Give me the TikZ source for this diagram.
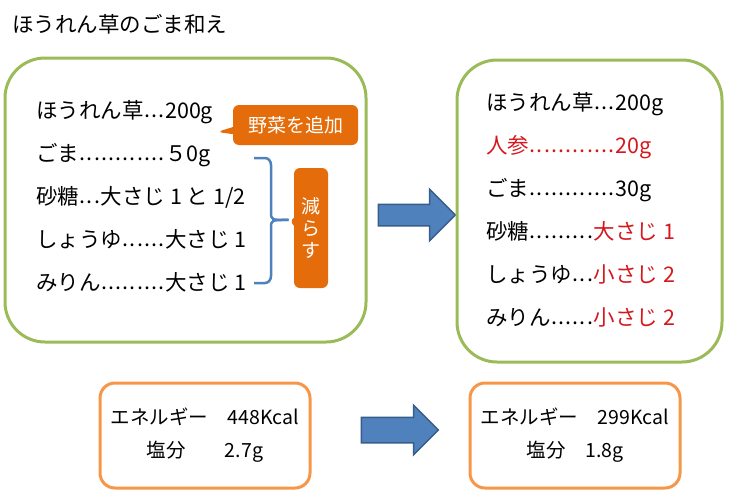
\documentclass[tikz,border=0pt]{standalone}
\usepackage{fontspec}
\setmainfont{Noto Sans CJK JP}
% n em of evenly spaced dots, three to the em
\newcommand{\dotrun}[1]{\hbox to #1em{\xleaders\hbox to 0.3333em{\hss\raisebox{1.5pt}{.}\hss}\hfil}}
\usepackage{tikz}
\usetikzlibrary{shapes.arrows,shapes.callouts,positioning}
\definecolor{leafgreen}{RGB}{155,187,89}
\definecolor{saltorange}{RGB}{247,150,70}
\definecolor{tagorange}{RGB}{228,108,10}
\definecolor{arrowblue}{RGB}{79,129,189}
\definecolor{arrowedge}{RGB}{56,93,138}
\definecolor{changered}{RGB}{214,24,30}

\begin{document}
\begin{tikzpicture}[x=1pt, y=-1pt, node distance=43pt]
\tikzstyle{recipe} = [rectangle, rounded corners=40pt, draw=leafgreen, line width=3pt]
\tikzstyle{item} = [anchor=west, inner sep=2pt, text height=16pt, text depth=5pt, font=\fontsize{21.5}{26}\selectfont]
\tikzstyle{tag} = [rectangle callout, rounded corners=6pt, fill=tagorange, text=white, inner sep=0pt, font=\fontsize{19}{22}\selectfont]
\tikzstyle{bracket} = [draw=arrowblue, line width=2.5pt]
\tikzstyle{bigarrow} = [single arrow, draw=arrowedge, fill=arrowblue, line width=1.5pt, minimum height=77pt, single arrow tip angle=90, inner xsep=0pt]
\tikzstyle{nutrition} = [rectangle, rounded corners=15pt, draw=saltorange, line width=3pt, align=center, font=\fontsize{19.5}{33}\selectfont]

\useasboundingbox (0,0) rectangle (736,498);

\node (title) [item] at (10,27) {ほうれん草のごま和え};

% before
\node (before) [recipe, minimum width=361pt, minimum height=284pt] at (185.5,200) {};
\node (b1) [item] at (34,113) {ほうれん草\dotrun{1}200g};
\node (b2) [item, below=of b1.west, anchor=west] {ごま\dotrun{4}５0g};
\node (b3) [item, below=of b2.west, anchor=west] {砂糖\dotrun{1}大さじ 1 と 1/2};
\node (b4) [item, below=of b3.west, anchor=west] {しょうゆ\dotrun{2}大さじ 1};
\node (b5) [item, below=of b4.west, anchor=west] {みりん\dotrun{3}大さじ 1};

\node (addveg) [tag, minimum width=125pt, minimum height=40pt, callout absolute pointer={(217,132)}] at (295.5,125) {野菜を追加};
\node (reduce) [tag, minimum width=34pt, minimum height=120pt, align=center, callout pointer width=8pt, callout absolute pointer={(289,220)}] at (311,228) {減\\ら\\す};

\coordinate (bracetop) at (254,158);
\coordinate (bracebot) at (254,283);
\draw [bracket] (bracetop) -- (265,158) to[out=0,in=90] (271,165) -- (271,212) .. controls (271,220) .. (reduce.pointer);
\draw [bracket] (bracebot) -- (265,283) to[out=0,in=-90] (271,276) -- (271,228) .. controls (271,220) .. (reduce.pointer);

\node (toparrow) [bigarrow, inner ysep=10pt, single arrow head extend=15pt] at (411.5,215) {};

% after
\node (after) [recipe, minimum width=265pt, minimum height=302pt] at (589.5,211) {};
\node (a1) [item] at (484,105) {ほうれん草\dotrun{1}200g};
\node (a2) [item, below=of a1.west, anchor=west] {\textcolor{changered}{人参\dotrun{4}20g}};
\node (a3) [item, below=of a2.west, anchor=west] {ごま\dotrun{4}30g};
\node (a4) [item, below=of a3.west, anchor=west] {砂糖\dotrun{3}\textcolor{changered}{大さじ 1}};
\node (a5) [item, below=of a4.west, anchor=west] {しょうゆ\dotrun{1}\textcolor{changered}{小さじ 2}};
\node (a6) [item, below=of a5.west, anchor=west] {みりん\dotrun{2}\textcolor{changered}{小さじ 2}};

% nutrition
\node (saltbefore) [nutrition, minimum width=210pt, minimum height=105pt] at (205,435.5) {エネルギー　448Kcal\\塩分　　2.7g};
\node (lowarrow) [bigarrow, inner ysep=12pt, single arrow head extend=12pt] at (393.5,430) {};
\node (saltafter) [nutrition, minimum width=210pt, minimum height=105pt] at (575,435.5) {エネルギー　299Kcal\\塩分　1.8g};
\end{tikzpicture}
\end{document}
